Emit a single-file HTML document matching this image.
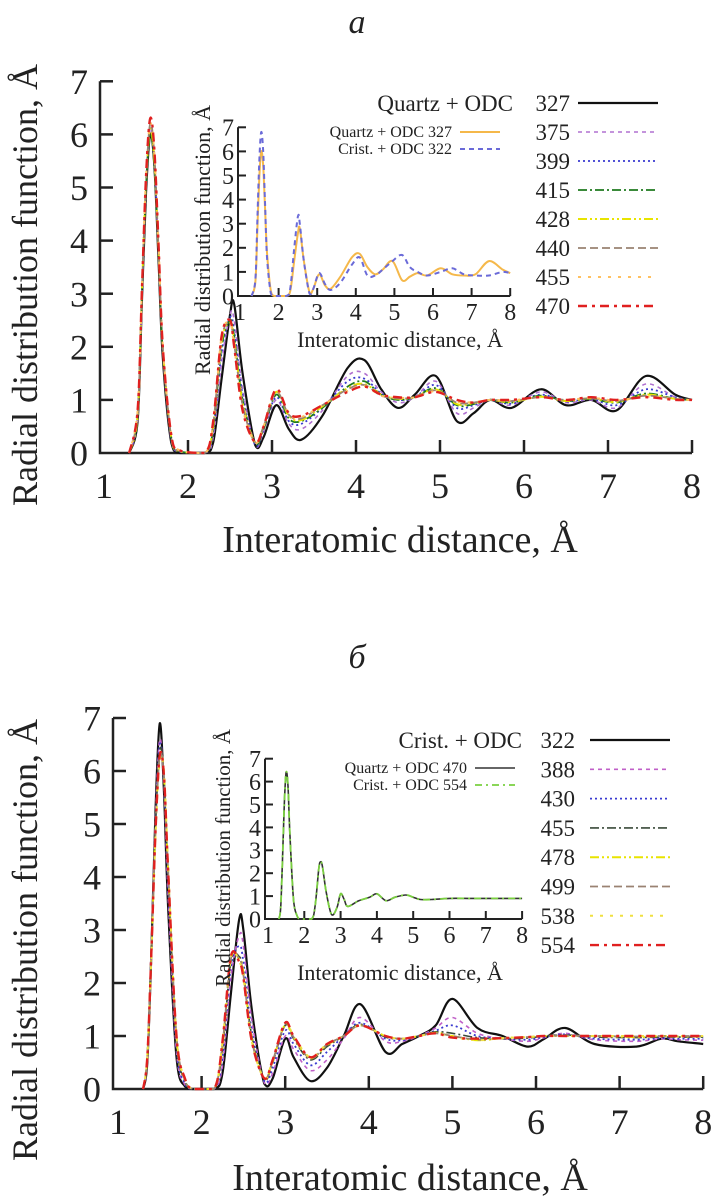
<!DOCTYPE html>
<html><head><meta charset="utf-8"><style>
html,body{margin:0;padding:0;background:#fff}
svg{display:block}
text{font-family:"Liberation Serif",serif;fill:#222}
</style></head><body>
<svg id="s" width="714" height="1200" viewBox="0 0 714 1200" font-family="Liberation Serif, serif"></svg>
<script>
// ---------- DATA ----------
const xa=[1.3,1.4,1.45,1.5,1.55,1.6,1.65,1.7,1.8,1.9,2.2,2.3,2.4,2.5,2.55,2.65,2.8,2.9,3.05,3.2,3.35,3.6,3.9,4.1,4.3,4.5,4.7,4.95,5.2,5.4,5.6,5.85,6.2,6.5,6.8,7.1,7.45,7.8,8.0];
const seriesAnames=["327","375","399","415","428","440","455","470"];
const a327=[0,0.6,2.8,4.9,6.0,5.4,3.6,1.8,0.2,0,0,0.2,1.4,2.6,2.8,1.5,0.15,0.3,0.9,0.45,0.25,0.7,1.6,1.75,1.2,0.85,1.1,1.45,0.6,0.75,1.0,0.85,1.2,0.9,1.0,0.8,1.45,1.1,1.0];
const a375=[0,0.65,2.9,5.0,6.1,5.5,3.7,1.9,0.25,0.02,0,0.3,1.7,2.6,2.5,1.2,0.15,0.4,1.0,0.55,0.45,0.8,1.45,1.5,1.15,0.95,1.05,1.35,0.75,0.85,1.0,0.9,1.15,0.95,1.0,0.85,1.3,1.05,1.0];
const a399=[0,0.7,2.9,5.0,6.1,5.5,3.7,1.9,0.25,0.02,0,0.4,1.9,2.55,2.3,1.1,0.15,0.45,1.05,0.6,0.55,0.85,1.35,1.4,1.12,1.0,1.05,1.28,0.85,0.9,1.0,0.93,1.1,0.97,1.02,0.9,1.2,1.05,1.0];
const a415=[0,0.7,2.9,5.0,6.0,5.4,3.7,1.9,0.3,0.03,0,0.45,2.0,2.5,2.2,1.0,0.18,0.45,1.1,0.65,0.6,0.85,1.25,1.35,1.1,1.0,1.05,1.22,0.9,0.92,1.0,0.95,1.08,0.98,1.02,0.95,1.12,1.02,1.0];
const a428=[0,0.7,3.0,5.1,6.1,5.5,3.8,2.0,0.3,0.03,0,0.5,2.1,2.45,2.1,0.95,0.2,0.5,1.15,0.7,0.62,0.88,1.22,1.3,1.1,1.02,1.05,1.2,0.92,0.94,1.0,0.96,1.06,0.98,1.03,0.96,1.1,1.02,1.0];
const a440=[0,0.75,3.0,5.1,6.2,5.6,3.8,2.0,0.3,0.04,0,0.55,2.15,2.45,2.05,0.9,0.2,0.5,1.15,0.72,0.65,0.9,1.2,1.28,1.08,1.03,1.05,1.18,0.95,0.95,1.0,0.98,1.05,1.0,1.03,0.98,1.08,1.02,1.0];
const a455=[0,0.8,3.0,5.2,6.2,5.6,3.9,2.0,0.35,0.05,0,0.55,2.2,2.45,2.0,0.85,0.2,0.5,1.18,0.73,0.68,0.9,1.17,1.26,1.08,1.04,1.05,1.16,0.97,0.96,1.0,0.99,1.05,1.0,1.04,0.99,1.06,1.01,1.0];
const a470=[0,0.8,3.0,5.2,6.3,5.7,3.9,2.0,0.35,0.05,0,0.6,2.2,2.5,2.0,0.8,0.2,0.5,1.2,0.75,0.7,0.9,1.15,1.25,1.1,1.05,1.05,1.15,1.0,0.95,1.0,1.0,1.05,1.0,1.05,1.0,1.05,1.0,1.0];

const xb=[1.3,1.35,1.4,1.45,1.5,1.55,1.6,1.7,1.8,1.9,2.15,2.25,2.35,2.45,2.5,2.6,2.75,2.85,3.0,3.1,3.3,3.5,3.7,3.9,4.2,4.4,4.6,4.8,5.0,5.3,5.6,5.9,6.1,6.35,6.7,7.2,7.5,7.7,8.0];
const seriesBnames=["322","388","430","455","478","499","538","554"];
const b322=[0,0.5,2.6,5.3,6.9,5.6,3.4,0.6,0.05,0,0,0.3,1.8,3.2,3.0,1.5,0.1,0.2,0.95,0.6,0.15,0.4,1.0,1.6,0.7,0.85,1.0,1.2,1.7,1.15,1.0,0.8,0.95,1.15,0.85,0.8,0.95,0.9,0.85];
const b388=[0,0.55,2.7,5.2,6.6,5.7,3.6,0.7,0.08,0,0,0.45,2.1,2.9,2.7,1.3,0.12,0.3,1.0,0.75,0.35,0.55,0.95,1.35,0.9,0.9,1.0,1.15,1.35,1.05,0.95,0.9,0.97,1.05,0.93,0.9,0.95,0.93,0.92];
const b430=[0,0.6,2.7,5.1,6.5,5.8,3.8,0.8,0.1,0,0,0.6,2.3,2.7,2.4,1.1,0.15,0.4,1.1,0.85,0.45,0.7,1.0,1.25,0.95,0.92,1.0,1.1,1.2,1.0,0.95,0.93,0.98,1.03,0.95,0.93,0.96,0.95,0.95];
const b455=[0,0.6,2.7,5.0,6.4,5.9,4.0,0.9,0.15,0,0,0.75,2.4,2.5,2.2,1.0,0.18,0.5,1.2,0.95,0.55,0.8,1.0,1.22,0.98,0.95,1.0,1.08,1.05,0.97,0.95,0.96,1.0,1.02,0.98,0.97,0.98,0.98,0.98];
const b478=[0,0.6,2.6,4.9,6.3,5.9,4.1,0.95,0.18,0,0,0.8,2.45,2.45,2.2,0.95,0.2,0.52,1.22,0.97,0.58,0.83,1.0,1.2,1.0,0.95,1.0,1.06,1.0,0.92,0.96,0.98,1.0,1.0,1.0,0.98,1.0,0.99,0.99];
const b499=[0,0.6,2.6,4.9,6.3,5.9,4.1,1.0,0.18,0,0,0.85,2.45,2.45,2.15,0.92,0.2,0.53,1.23,0.98,0.58,0.84,1.0,1.2,1.0,0.95,1.0,1.05,1.0,0.93,0.96,0.98,1.0,1.01,1.0,0.99,1.0,1.0,1.0];
const b538=[0,0.6,2.5,4.8,6.2,6.0,4.2,1.0,0.2,0,0,0.9,2.5,2.4,2.1,0.9,0.2,0.55,1.25,1.0,0.6,0.85,1.0,1.2,1.0,0.95,1.0,1.05,0.98,0.92,0.96,0.98,1.0,1.0,1.0,1.0,1.0,1.0,1.0];
const b554=[0,0.6,2.6,4.9,6.3,5.9,4.1,1.0,0.2,0,0,0.9,2.5,2.4,2.1,0.9,0.2,0.55,1.25,1.0,0.6,0.85,1.0,1.2,1.0,0.95,1.0,1.05,0.97,0.95,0.96,0.98,1.0,1.0,1.0,1.0,1.0,1.0,1.0];

const xi=[1.3,1.4,1.45,1.5,1.55,1.6,1.65,1.7,1.8,1.9,2.2,2.3,2.4,2.5,2.55,2.65,2.8,2.9,3.05,3.2,3.35,3.6,3.9,4.1,4.3,4.5,4.7,4.95,5.2,5.4,5.6,5.85,6.2,6.5,6.8,7.1,7.45,7.8,8.0];
const insetA_quartz327=[0,0.6,2.8,4.9,6.0,5.4,3.6,1.8,0.2,0,0,0.2,1.4,2.6,2.8,1.5,0.15,0.3,0.9,0.45,0.3,0.8,1.6,1.75,1.2,0.9,1.1,1.45,0.65,0.8,0.95,0.85,1.15,0.9,0.85,0.9,1.45,1.1,0.95];
const insetA_crist322=[0,0.7,3.2,5.6,6.8,6.0,3.8,1.6,0.1,0,0,0.3,1.9,3.3,3.0,1.5,0.1,0.3,0.95,0.5,0.25,0.55,1.3,1.6,0.85,0.85,1.1,1.45,1.7,1.2,1.0,0.85,1.0,1.15,0.9,0.85,0.85,1.0,0.95];
const xj=[1.3,1.35,1.4,1.45,1.5,1.55,1.6,1.7,1.8,1.9,2.2,2.3,2.4,2.45,2.5,2.6,2.75,2.9,3.0,3.1,3.2,3.5,3.8,4.0,4.25,4.5,4.8,5.0,5.2,5.5,6.0,6.5,7.0,7.5,8.0];
const insetB_quartz470=[0,0.5,2.6,5.0,6.4,5.8,3.8,0.9,0.15,0,0,0.6,2.2,2.5,2.3,1.2,0.2,0.5,1.1,0.85,0.55,0.8,0.95,1.1,0.8,0.95,1.05,0.95,0.85,0.85,0.9,0.9,0.9,0.9,0.9];
const insetB_crist554=[0,0.5,2.6,5.0,6.4,5.8,3.8,0.9,0.15,0,0,0.6,2.2,2.5,2.3,1.2,0.2,0.5,1.1,0.85,0.55,0.8,0.95,1.1,0.8,0.95,1.05,0.95,0.85,0.85,0.9,0.9,0.9,0.9,0.9];
const xTicks=[1,2,3,4,5,6,7,8];
const yTicks=[0,1,2,3,4,5,6,7];

// ---------- DRAW ----------
const S=document.getElementById('s');const NS='http://www.w3.org/2000/svg';
function el(t,at,txt){const e=document.createElementNS(NS,t);for(const k in at)e.setAttribute(k,at[k]);if(txt!==undefined)e.textContent=txt;S.appendChild(e);return e;}
function axisFns(x1px,xs,y0px,ys){return{X:v=>x1px+(v-1)*xs,Y:v=>y0px-v*ys};}
function path(xs,ys,ax,clip){const P=xs.map((x,i)=>[ax.X(x),ax.Y(Math.max(0,ys[i]))]);let d='M'+P[0][0].toFixed(1)+','+P[0][1].toFixed(1);
 for(let i=0;i<P.length-1;i++){const p0=P[i-1]||P[i],p1=P[i],p2=P[i+1],p3=P[i+2]||P[i+1];
  let c1y=p1[1]+(p2[1]-p0[1])/6,c2y=p2[1]-(p3[1]-p1[1])/6;c1y=Math.min(c1y,clip);c2y=Math.min(c2y,clip);
  d+=' C'+(p1[0]+(p2[0]-p0[0])/6).toFixed(1)+','+c1y.toFixed(1)+' '+(p2[0]-(p3[0]-p1[0])/6).toFixed(1)+','+c2y.toFixed(1)+' '+p2[0].toFixed(1)+','+p2[1].toFixed(1);}
 return d;}
function axes(ax,opt,pref){
 const l=el('path',{d:`M${opt.left},${ax.Y(7)} V${ax.Y(0)} H${ax.X(8)}`,fill:'none',stroke:'#222','stroke-width':opt.sw});
 
 xTicks.forEach(t=>{ if(t>1){const k=el('line',{x1:ax.X(t),x2:ax.X(t),y1:ax.Y(0),y2:ax.Y(0)-opt.tl,stroke:'#222','stroke-width':opt.sw});
   }
  const tx=el('text',{x:ax.X(t),y:ax.Y(0)+opt.xlo,'font-size':opt.fs,'text-anchor':'middle'},String(t));
  });
 yTicks.forEach(t=>{ if(t>0){const k=el('line',{x1:opt.left,x2:opt.left+opt.tl,y1:ax.Y(t),y2:ax.Y(t),stroke:'#222','stroke-width':opt.sw});
   }
  const tx=el('text',{x:opt.left-opt.ylo,y:ax.Y(t)+opt.fs*0.35,'font-size':opt.fs,'text-anchor':'end'},String(t));
  });
}
function series(xs,ys,ax,col,dash,w,name){const p=el('path',{d:path(xs,ys,ax,ax.Y(0)),fill:'none',stroke:col,'stroke-width':w,'stroke-dasharray':dash,'stroke-linejoin':'round'});
 }

const stylesA=[['#111','',2.2],['#b070d0','4,4',1.6],['#3a3ad0','2,3',1.8],['#1f7a1f','9,3,2,3',1.8],['#e8e400','9,3,2,3,2,3',2],['#9a8272','8,4',1.8],['#ffc060','3,7',2],['#e02020','9,5,3,5',2.4]];
const stylesB=[['#111','',2.2],['#c060c8','4,4',1.6],['#3a3ad0','2,3',1.8],['#3a4a3a','9,3,2,3',1.6],['#e8e400','9,3,2,3,2,3',2],['#9a8272','8,4',1.8],['#f0e040','3,7',2],['#e02020','9,5,3,5',2.4]];
const dataA=[a327,a375,a399,a415,a428,a440,a455,a470];
const dataB=[b322,b388,b430,b455,b478,b499,b538,b554];

function panel(ax,opt,xs,data,styles,names,pref,legend){
 axes(ax,opt,pref);
 data.forEach((d,i)=>series(xs,d,ax,styles[i][0],styles[i][1],styles[i][2],pref+'-series-'+names[i]));
 const h=el('text',{x:legend.tx,y:legend.y0+8,'font-size':23,'text-anchor':'end'},legend.title);
 
 names.forEach((n,i)=>{const y=legend.y0+i*legend.dy;
  const t=el('text',{x:legend.nx,y:y+8,'font-size':23,'text-anchor':'end'},n);
  
  const l=el('line',{x1:legend.lx,x2:legend.lx+80,y1:y,y2:y,stroke:styles[i][0],'stroke-width':styles[i][2],'stroke-dasharray':styles[i][1]});
  });
}
const AX_A=axisFns(104,84,453,53.1);
panel(AX_A,{left:100,sw:2.5,tl:13,fs:36,xlo:45,ylo:12},xa,dataA,stylesA,seriesAnames,'panel-a',{title:'Quartz + ODC',tx:513,nx:570,lx:578,y0:103,dy:29});
const AX_B=axisFns(118,83.6,1089,53.0);
panel(AX_B,{left:113,sw:2.5,tl:13,fs:36,xlo:45,ylo:12},xb,dataB,stylesB,seriesBnames,'panel-b',{title:'Crist. + ODC',tx:522,nx:575,lx:590,y0:740,dy:29.3});

function inset(ax,left,xs,d1,d2,s1,s2,pref,lab1,lab2,lx,ly){
 axes(ax,{left:left,sw:2,tl:8,fs:24,xlo:24,ylo:4},pref);
 series(xs,d1,ax,s1[0],s1[1],s1[2],pref+'-series-1');
 series(xs,d2,ax,s2[0],s2[1],s2[2],pref+'-series-2');
 [[lab1,s1],[lab2,s2]].forEach((p,i)=>{const y=ly+i*17;
  const t=el('text',{x:lx,y:y+5,'font-size':16,'text-anchor':'end'},p[0]);
  
  const l=el('line',{x1:lx+8,x2:lx+48,y1:y,y2:y,stroke:p[1][0],'stroke-width':p[1][2],'stroke-dasharray':p[1][1]});
  });
}
const AX_IA=axisFns(240,38.6,296,24.1);
inset(AX_IA,238,xi,insetA_quartz327,insetA_crist322,['#f5b84a','',2],['#6a6ad8','5,4',2],'inset-a','Quartz + ODC 327','Crist. + ODC 322',452,132);
const AX_IB=axisFns(268,36.3,919,22.9);
inset(AX_IB,265,xj,insetB_quartz470,insetB_crist554,['#333','',1.6],['#7ad040','7,4,2,4',1.8],'inset-b','Quartz + ODC 470','Crist. + ODC 554',467,768);

function txt(a,s,name){const t=el('text',a,s);return t;}
txt({x:357,y:33,'font-size':34,'font-style':'italic','text-anchor':'middle'},'a','panel-a-label');
txt({x:357,y:668,'font-size':34,'font-style':'italic','text-anchor':'middle'},'б','panel-b-label');
txt({x:400,y:552,'font-size':38,'text-anchor':'middle'},'Interatomic distance, Å','panel-a-x-axis-title');
txt({x:410,y:1190,'font-size':38,'text-anchor':'middle'},'Interatomic distance, Å','panel-b-x-axis-title');
txt({x:0,y:0,'font-size':36,'text-anchor':'middle',transform:'translate(37,285) rotate(-90)'},'Radial distribution function, Å','panel-a-y-axis-title');
txt({x:0,y:0,'font-size':36,'text-anchor':'middle',transform:'translate(37,940) rotate(-90)'},'Radial distribution function, Å','panel-b-y-axis-title');
txt({x:400,y:347,'font-size':22,'text-anchor':'middle'},'Interatomic distance, Å','inset-a-x-axis-title');
txt({x:0,y:0,'font-size':22,'text-anchor':'middle',transform:'translate(210,240) rotate(-90)'},'Radial distribution function, Å','inset-a-y-axis-title');
txt({x:400,y:980,'font-size':22,'text-anchor':'middle'},'Interatomic distance, Å','inset-b-x-axis-title');
txt({x:0,y:0,'font-size':21,'text-anchor':'middle',transform:'translate(230,858) rotate(-90)'},'Radial distribution function, Å','inset-b-y-axis-title');
</script>
</body></html>
